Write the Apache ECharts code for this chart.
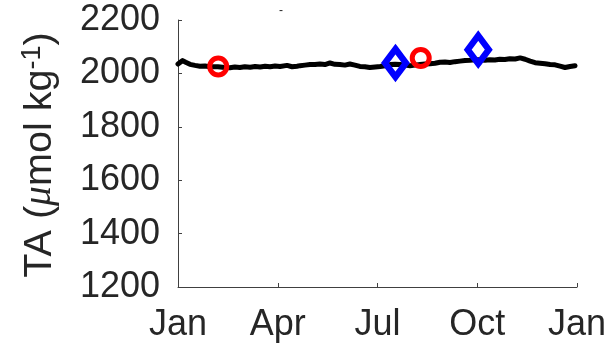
<!DOCTYPE html>
<html>
<head>
<meta charset="utf-8">
<script src="https://cdn.jsdelivr.net/npm/echarts@6/dist/echarts.min.js"></script>
<style>
  html, body { margin: 0; padding: 0; background: #fff; }
  #chart { width: 611px; height: 349px; }
</style>
</head>
<body>
<div id="chart"></div>
<script>
// Time is measured in months from 1 January (0) to the next 1 January (12).
const monthTicks = [0, 3, 6, 9, 12];
const monthLabels = ['Jan', 'Apr', 'Jul', 'Oct', 'Jan'];

// Continuous total alkalinity record (month, µmol kg-1)
const taMonths = [
  0.00, 0.06, 0.14, 0.23, 0.36, 0.51, 0.66, 0.81, 0.96, 1.20,
  1.41, 1.56, 1.71, 1.86, 2.01, 2.17, 2.32, 2.47, 2.62, 2.77,
  2.92, 3.07, 3.28, 3.43, 3.58, 3.67, 3.82, 3.97, 4.12, 4.27,
  4.42, 4.57, 4.72, 4.87, 5.02, 5.17, 5.32, 5.47, 5.62, 5.77,
  5.93, 6.08, 6.23, 6.38, 6.53, 6.68, 6.83, 6.98, 7.13, 7.28,
  7.43, 7.58, 7.73, 7.88, 8.03, 8.18, 8.33, 8.48, 8.63, 8.78,
  8.93, 9.08, 9.23, 9.38, 9.53, 9.68, 9.83, 9.98, 10.14, 10.29,
  10.44, 10.59, 10.74, 10.89, 11.04, 11.19, 11.34, 11.49, 11.64, 11.79,
  11.94
];
const taValues = [
  2035, 2042, 2048, 2042, 2034, 2030, 2027, 2028, 2025, 2025,
  2022, 2021, 2024, 2022, 2025, 2023, 2026, 2024, 2027, 2025,
  2028, 2026, 2030, 2025, 2027, 2029, 2031, 2033, 2033, 2035,
  2033, 2039, 2034, 2033, 2031, 2035, 2031, 2026, 2025, 2022,
  2024, 2026, 2029, 2033, 2034, 2033, 2031, 2029, 2031, 2033,
  2035, 2036, 2038, 2042, 2043, 2041, 2044, 2046, 2048, 2049,
  2051, 2051, 2049, 2051, 2050, 2053, 2052, 2055, 2054, 2058,
  2053, 2046, 2040, 2038, 2036, 2033, 2032, 2027, 2022, 2026,
  2029
];

// Discrete bottle samples
const circleMonths = [1.21, 7.30];
const circleValues = [2026, 2058];
const diamondMonths = [6.54, 9.03];
const diamondValues = [2039, 2089];

const yMin = 1200, yMax = 2200, yStep = 200;

const FONT = 'Liberation Sans, Arial, Helvetica, sans-serif';
const INK = '#262626';

const pairs = (xs, ys) => xs.map((x, i) => [x, ys[i]]);

const chart = echarts.init(document.getElementById('chart'), null, { renderer: 'canvas' });

chart.setOption({
  animation: false,
  backgroundColor: '#ffffff',
  title: {
    text: '-',
    left: 274,
    top: 0,
    textStyle: { fontFamily: FONT, fontSize: 12, color: INK, fontWeight: 'normal' }
  },
  grid: { left: 178, right: 34, top: 20, bottom: 62, containLabel: false },
  xAxis: {
    type: 'value',
    min: monthTicks[0],
    max: monthTicks[monthTicks.length - 1],
    interval: 3,
    splitLine: { show: false },
    axisLine: { show: true, onZero: false, lineStyle: { color: '#404040', width: 1 } },
    axisTick: { show: true, inside: true, length: 4, lineStyle: { color: '#404040' } },
    axisLabel: {
      margin: 20,
      fontFamily: FONT,
      fontSize: 36,
      color: INK,
      formatter: v => monthLabels[monthTicks.indexOf(Math.round(v))] || ''
    }
  },
  yAxis: {
    type: 'value',
    min: yMin,
    max: yMax,
    interval: yStep,
    splitLine: { show: false },
    axisLine: { show: true, onZero: false, lineStyle: { color: '#404040', width: 1 } },
    axisTick: { show: true, inside: true, length: 4, lineStyle: { color: '#404040' } },
    axisLabel: {
      margin: 18,
      fontFamily: FONT,
      fontSize: 36,
      color: INK,
      formatter: v => String(v)
    }
  },
  graphic: [{
    type: 'text',
    x: 40,
    y: 155,
    rotation: Math.PI / 2,
    style: {
      text: 'TA ({mu|μ}mol kg{sup|-1})',
      fontFamily: FONT,
      fontSize: 39.6,
      fill: INK,
      align: 'center',
      verticalAlign: 'middle',
      rich: {
        mu: { fontFamily: 'Liberation Serif, Times New Roman, serif', fontStyle: 'italic', fontSize: 39.6, fill: INK },
        sup: { fontFamily: FONT, fontSize: 27, fill: INK, verticalAlign: 'top', padding: [0, 0, 14, 0] }
      }
    }
  }],
  series: [
    {
      type: 'line',
      data: pairs(taMonths, taValues),
      showSymbol: false,
      smooth: false,
      lineStyle: { color: '#000000', width: 5, join: 'round', cap: 'round' },
      z: 2
    },
    {
      type: 'scatter',
      data: pairs(circleMonths, circleValues),
      symbol: 'circle',
      symbolSize: 17,
      itemStyle: { color: 'rgba(0,0,0,0)', borderColor: '#ff0000', borderWidth: 5, opacity: 1 },
      z: 3
    },
    {
      type: 'scatter',
      data: pairs(diamondMonths, diamondValues),
      symbol: 'diamond',
      symbolSize: [21, 28],
      itemStyle: { color: 'rgba(0,0,0,0)', borderColor: '#0000ff', borderWidth: 6.5, opacity: 1 },
      z: 4
    }
  ]
});
</script>
</body>
</html>
